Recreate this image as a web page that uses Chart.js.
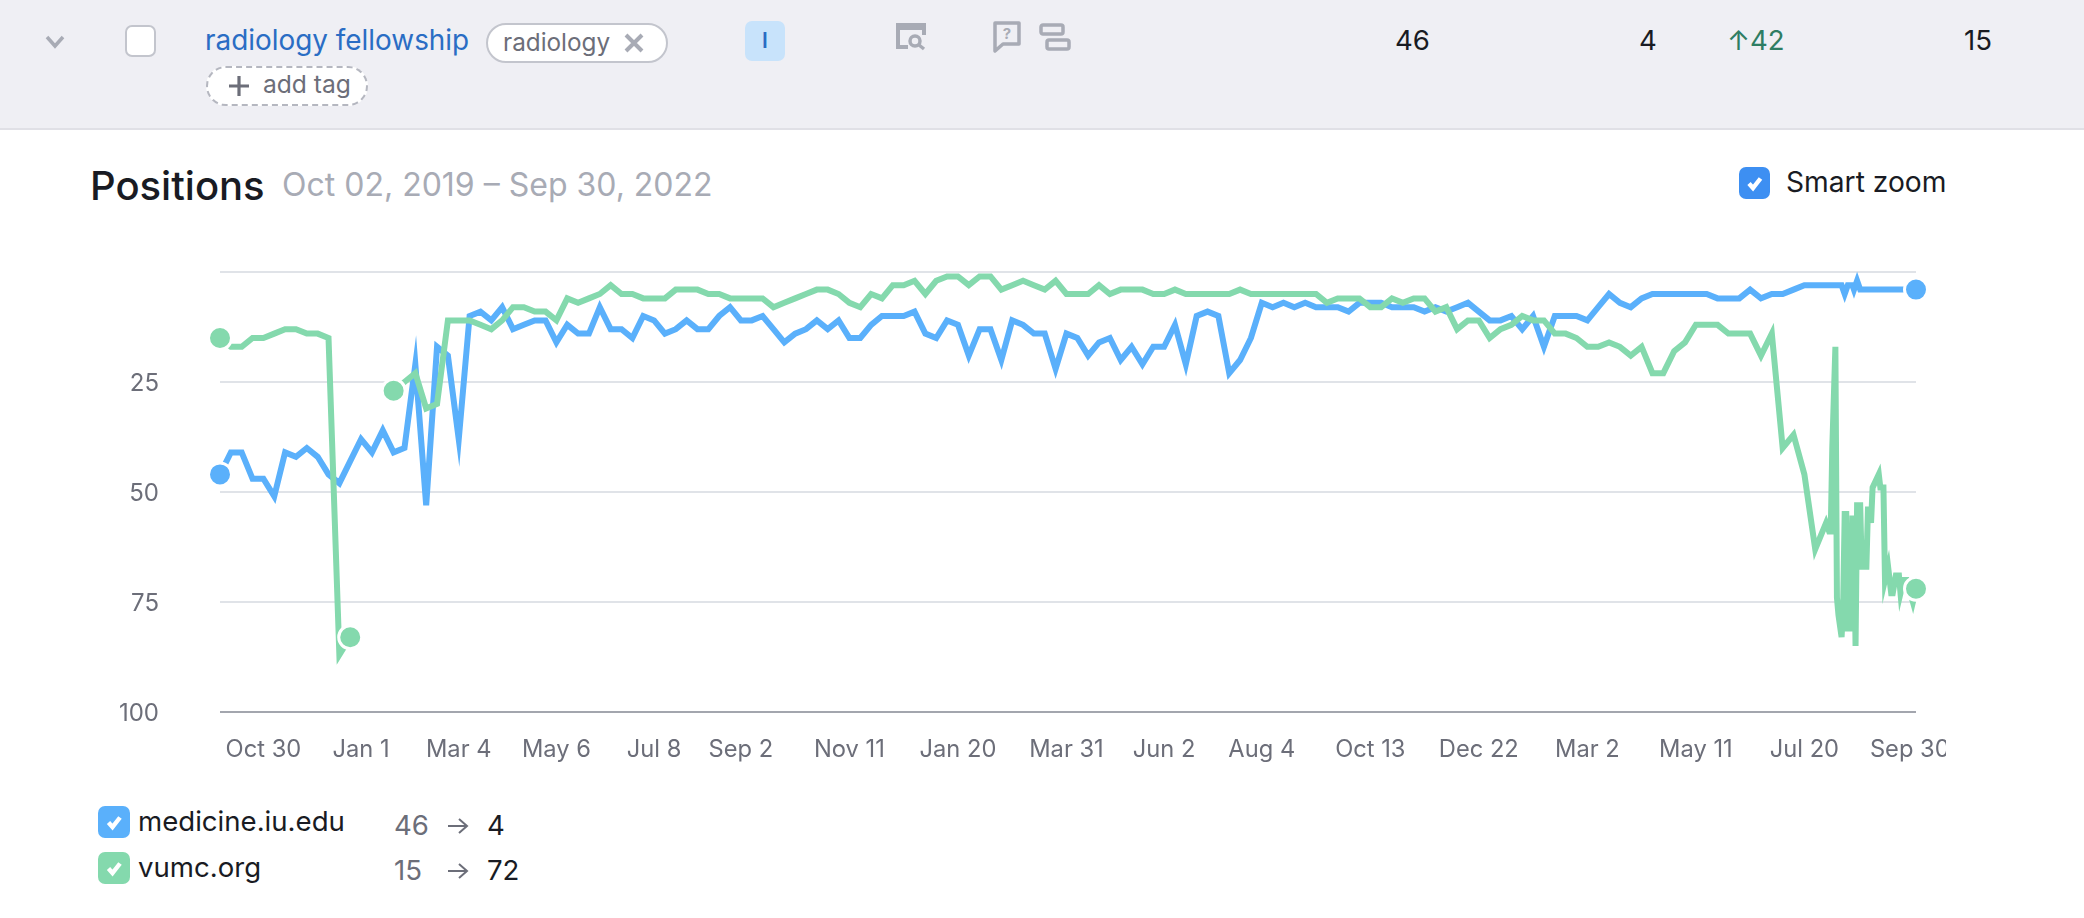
<!DOCTYPE html>
<html>
<head>
<meta charset="utf-8">
<title>Positions</title>
<script src="https://cdn.jsdelivr.net/npm/chart.js@4"></script>
<style>
html,body{margin:0;padding:0;background:#fff;width:2084px;height:918px;overflow:hidden;font-family:Inter,sans-serif;color:#191b23}
#row{position:absolute;left:0;top:0;width:2084px;height:128px;background:#efeff4;border-bottom:2px solid #e0e0e6}
.t{position:absolute;transform:translateY(-50%);white-space:nowrap;line-height:1.2}
.b{position:absolute;box-sizing:border-box}
.n{font-size:27.6px}
svg{position:absolute;overflow:visible}
#wrap{position:absolute;left:100px;top:250px;width:1846px;height:530px}
</style>
</head>
<body>
<div id="row"></div>
<svg style="left:45px;top:35px" width="20" height="14"><path d="M2 2 L10 11 L18 2" fill="none" stroke="#a8abb5" stroke-width="3.5"/></svg>
<div class="b" style="left:125px;top:25px;width:31px;height:32px;background:#fff;border:2px solid #c3c5cd;border-radius:7px"></div>
<span class="t" style="left:205px;top:41px;font-size:27.9px;color:#2a6dc4">radiology fellowship</span>
<div class="b" style="left:486px;top:23px;width:182px;height:40px;background:#fff;border:2px solid #c3c5cd;border-radius:20px"></div>
<span class="t" style="left:503px;top:43px;font-size:24.3px;color:#6c6e79">radiology</span>
<svg style="left:623px;top:33px" width="22" height="20"><path d="M3 2 L19 18 M19 2 L3 18" stroke="#a8abb5" stroke-width="4" fill="none"/></svg>
<div class="b" style="left:206px;top:66px;width:162px;height:40px;background:#fff;border:2px dashed #b5b7c0;border-radius:20px"></div>
<svg style="left:228px;top:75px" width="22" height="22"><path d="M11 1 V21 M1 11 H21" stroke="#6c6e79" stroke-width="3.2" fill="none"/></svg>
<span class="t" style="left:263px;top:85px;font-size:24.6px;color:#6c6e79">add tag</span>
<div class="b" style="left:745px;top:21px;width:40px;height:40px;background:#c8e3fb;border-radius:7px"></div>
<span class="t" style="left:765px;top:41px;font-size:21px;font-weight:600;color:#2a6dc4;transform:translate(-50%,-50%)">I</span>
<svg style="left:896px;top:23px" width="30" height="27"><path d="M12 24 H2 V2 H28 V12" fill="none" stroke="#a8abb5" stroke-width="4"/><path d="M2 4 H28" stroke="#a8abb5" stroke-width="6"/><circle cx="19" cy="18" r="5" fill="none" stroke="#a8abb5" stroke-width="3.5"/><path d="M23 22 L28 26" stroke="#a8abb5" stroke-width="3.5"/></svg>
<svg style="left:993px;top:21px" width="28" height="32"><path d="M2 2 H26 V23 H10 L2 30 Z" fill="none" stroke="#a8abb5" stroke-width="3.5" stroke-linejoin="round"/><text x="14" y="18" font-size="15" font-weight="700" fill="#a8abb5" text-anchor="middle" font-family="Inter">?</text></svg>
<svg style="left:1039px;top:23px" width="32" height="28"><rect x="2" y="2" width="22" height="9" rx="2" fill="none" stroke="#a8abb5" stroke-width="3.5"/><rect x="8" y="17" width="22" height="9" rx="2" fill="none" stroke="#a8abb5" stroke-width="3.5"/></svg>
<span class="t n" style="left:1395px;top:41px">46</span>
<span class="t n" style="left:1639px;top:41px">4</span>
<span class="t n" style="left:1727px;top:41px;color:#2e7d63">↑42</span>
<span class="t n" style="left:1964px;top:41px">15</span>

<span class="t" style="left:90px;top:186px;font-size:40px;font-weight:500">Positions</span>
<span class="t" style="left:282px;top:185px;font-size:32px;color:#a8abb5">Oct 02, 2019 – Sep 30, 2022</span>
<svg style="left:1739px;top:167px" width="31" height="32"><rect width="31" height="32" rx="7" fill="#3d8ff2"/><path d="M10 16.5 L14 21 L21.5 11.5" fill="none" stroke="#fff" stroke-width="4.4"/></svg>
<span class="t" style="left:1786px;top:183px;font-size:28.2px">Smart zoom</span>

<div id="wrap"><canvas id="chart"></canvas></div>

<svg style="left:98px;top:806px" width="32" height="32"><rect width="32" height="32" rx="7" fill="#5ab0fb"/><path d="M10.5 16.5 L14.5 21 L22 11.5" fill="none" stroke="#fff" stroke-width="4.4"/></svg>
<span class="t" style="left:138px;top:822px;font-size:27.6px">medicine.iu.edu</span>
<span class="t n" style="left:394px;top:826px;color:#6c6e79">46</span>
<svg style="left:447px;top:816px" width="22" height="20"><path d="M1 10 H20 M12 3 L20 10 L12 17" fill="none" stroke="#6c6e79" stroke-width="2"/></svg>
<span class="t n" style="left:487px;top:826px">4</span>
<svg style="left:98px;top:852px" width="32" height="32"><rect width="32" height="32" rx="7" fill="#84d9ad"/><path d="M10.5 16.5 L14.5 21 L22 11.5" fill="none" stroke="#fff" stroke-width="4.4"/></svg>
<span class="t" style="left:138px;top:868px;font-size:27.6px">vumc.org</span>
<span class="t n" style="left:394px;top:871px;color:#6c6e79">15</span>
<svg style="left:447px;top:861px" width="22" height="20"><path d="M1 10 H20 M12 3 L20 10 L12 17" fill="none" stroke="#6c6e79" stroke-width="2"/></svg>
<span class="t n" style="left:487px;top:871px">72</span>

<script>
// Days since Oct 02, 2019
const weeklyDays = [0,7,14,21,28,35,42,49,56,63,70,77,84,91,98,105,112,119,126,133,140,147,154,161,168,175,182,189,196,203,210,217,224,231,238,245,252,259,266,273,280,287,294,301,308,315,322,329,336,343,350,357,364,371,378,385,392,399,406,413,420,427,434,441,448,455,462,469,476,483,490,497,504,511,518,525,532,539,546,553,560,567,574,581,588,595,602,609,616,623,630,637,644,651,658,665,672,679,686,693,700,707,714,721,728,735,742,749,756,763,770,777,784,791,798,805,812,819,826,833,840,847,854,861,868,875,882,889,896,903,910,917,924,931,938,945,952,959,966,973,980,987,994,1001,1008,1015,1022,1029,1036,1043];

const blueWeekly = [46,41,41,47,47,51,41,42,40,42,
46,48,43,38,41,36,41,40,21,53,
17,19,38,10,9,11,8,13,12,11,
11,16,12,14,14,8,13,13,15,10,
11,14,13,11,13,13,10,8,11,11,
10,13,16,14,13,11,13,11,15,15,
12,10,10,10,9,14,15,11,12,19,
13,13,20,11,12,14,14,22,14,15,
19,16,15,20,17,21,17,17,12,21,
10,9,10,23,20,15,7,8,7,8,
7,8,8,8,9,7,7,7,8,8,
8,9,8,9,8,7,9,11,11,10,
13,10,17,10,10,10,11,8,5,7,
8,6,5,5,5,5,5,5,6,6,
6,4,6,5,5,4,3,3,3,3];
const blueTailDays = [1046,1048,1050,1053,1054,1056,1058,1091,1094];
const blueTail = [3,5,3,3,4,2,4,4,4];

const greenWeekly = [15,17,17,15,15,14,13,13,14,14,
15,87,83,null,null,null,27,25,23,31,
30,11,11,11,12,13,11,8,8,9,
9,11,6,7,6,5,3,5,5,6,
6,6,4,4,4,5,5,6,6,6,
6,8,7,6,5,4,4,5,7,8,
5,6,3,3,2,5,2,1,1,3,
1,1,4,3,2,3,4,2,5,5,
5,3,5,4,4,4,5,5,4,5,
5,5,5,5,4,5,5,5,5,5,
5,5,7,6,6,6,8,8,6,7,
6,6,9,8,13,11,11,15,13,12,
10,11,11,14,14,15,17,17,16,17,
19,17,23,23,18,16,12,12,12,14,
14,14,19,14,40,37,46,63];
const greenTailDays = [1036,1038,1039,1040,1042,1043,1044,1046,1047,1048,1049,1050,1052,1053,1054,1055,1056,1058,1059,1062,1063,1064,1065,1066,1070,1071,1073,1074,1076,1078,1079,1081,1083,1084,1086,1088,1092,1094];
const greenTail = [57,59,59,40,17,74,78,83,76,55,55,81,81,56,56,85,53,53,67,67,54,54,57,49,46,49,49,70,67,73,73,69,69,73,70,70,75,72];

const xTickDays = [28,91,154,217,280,336,406,476,546,609,672,742,812,882,952,1022,1090];
const xTickLabels = ['Oct 30','Jan 1','Mar 4','May 6','Jul 8','Sep 2','Nov 11','Jan 20','Mar 31','Jun 2','Aug 4','Oct 13','Dec 22','Mar 2','May 11','Jul 20','Sep 30'];
const yTickValues = [0,25,50,75,100];
const yTickLabels = ['','25','50','75','100'];

const BLUE = '#5ab0fb', GREEN = '#84d9ad';

function toPoints(days, values){ return days.map((d,i)=>({x:d,y:values[i]})); }
const bluePoints = toPoints(weeklyDays.concat(blueTailDays), blueWeekly.concat(blueTail));
const greenPoints = toPoints(weeklyDays.slice(0,greenWeekly.length).concat(greenTailDays), greenWeekly.concat(greenTail));
const blueMarked = [0, bluePoints.length-1];
const greenMarked = [0, 12, 16, greenPoints.length-1];

function series(label, data, color, marked){
  return {
    label, data, borderColor:color, backgroundColor:color, borderWidth:6,
    tension:0, spanGaps:false, clip:false,
    pointRadius: c => marked.includes(c.dataIndex) ? 11.5 : 0,
    pointBackgroundColor:color, pointBorderColor:'#fff', pointBorderWidth:3,
    pointHoverRadius:0
  };
}

new Chart(document.getElementById('chart'), {
  type:'line',
  data:{datasets:[
    series('vumc.org', greenPoints, GREEN, greenMarked),
    series('medicine.iu.edu', bluePoints, BLUE, blueMarked)
  ]},
  options:{
    responsive:true, maintainAspectRatio:false, animation:false,
    layout:{padding:{top:22,right:30,left:0,bottom:0}},
    plugins:{legend:{display:false},tooltip:{enabled:false},title:{display:false}},
    scales:{
      x:{
        type:'linear', min:0, max:1094,
        grid:{display:false}, border:{display:false},
        afterBuildTicks:s=>{s.ticks=xTickDays.map(v=>({value:v}));},
        afterFit:s=>{s.height=68;s.paddingLeft=0;s.paddingRight=0;},
        ticks:{autoSkip:false,maxRotation:0,minRotation:0,padding:16,color:'#6c6e79',
          font:{family:'Inter',size:23.7},callback:(v,i)=>xTickLabels[i]}
      },
      y:{
        reverse:true, min:0, max:100,
        border:{display:false},
        grid:{drawTicks:false,tickLength:0,lineWidth:2,
          color:c=>c.tick.value===100?'#a3a6ae':'#e0e3e8'},
        afterBuildTicks:s=>{s.ticks=yTickValues.map(v=>({value:v}));},
        afterFit:s=>{s.width=120;s.paddingTop=0;s.paddingBottom=0;},
        ticks:{autoSkip:false,padding:61,labelOffset:1.5,color:'#6c6e79',
          font:{family:'Inter',size:24},callback:(v,i)=>yTickLabels[i]}
      }
    }
  }
});
</script>
</body>
</html>
